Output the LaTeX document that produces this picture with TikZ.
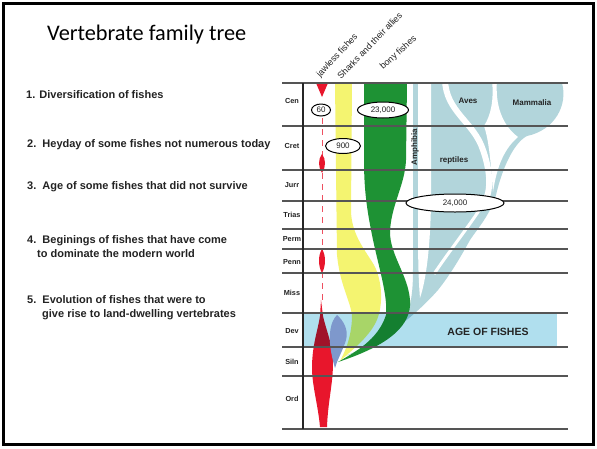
\documentclass[tikz,border=0pt]{standalone}
\usepackage{fontspec}
\setmainfont{Liberation Sans}
\newfontfamily\titlefont{Carlito}
\usetikzlibrary{shapes.geometric}
\definecolor{bluec}{RGB}{178,213,219}
\definecolor{bandc}{RGB}{176,223,238}
\definecolor{greenc}{RGB}{30,146,52}
\definecolor{yellowc}{RGB}{244,244,112}
\definecolor{redc}{RGB}{232,22,44}
\definecolor{bgc}{RGB}{126,152,204}
\definecolor{gridc}{RGB}{85,85,85}
\definecolor{txtc}{RGB}{35,35,35}
\tikzset{
  lst/.style={anchor=base west, inner sep=0, text=txtc, font=\bfseries\fontsize{11}{12}\selectfont},
  per/.style={inner sep=0, text=txtc, font=\bfseries\fontsize{7.3}{8}\selectfont},
  col/.style={anchor=base west, inner sep=0, text=txtc, font=\fontsize{9}{10}\selectfont},
  cnt/.style={ellipse, draw=black, line width=1pt, fill=white, inner sep=0, text=txtc, font=\fontsize{8}{9}\selectfont},
  lbl/.style={inner sep=0, text=txtc, font=\bfseries\fontsize{8}{9}\selectfont},
  gridline/.style={draw=gridc, line width=1.3pt},
}
\begin{document}
\begin{tikzpicture}[x=1pt,y=-1pt]
\useasboundingbox (0,0) rectangle (597,448);
\fill[white] (0,0) rectangle (597,448);
% frame
\draw[line width=2.5pt] (3.5,3.5) rectangle (593.5,444.5);
% title
\node[anchor=base west, inner sep=0, font=\titlefont\fontsize{22.3}{25}\selectfont] (title) at (47,40) {Vertebrate family tree};
% list
\node[lst] (l1) at (26,98) {1. Diversification of fishes};
\node[lst] (l2) at (27,147) {2.\ \ Heyday of some fishes not numerous today};
\node[lst] (l3) at (27,189) {3.\ \ Age of some fishes that did not survive};
\node[lst] (l4a) at (27,243) {4.\ \ Beginings of fishes that have come};
\node[lst] (l4b) at (37,257) {to dominate the modern world};
\node[lst] (l5a) at (27,303) {5.\ \ Evolution of fishes that were to};
\node[lst] (l5b) at (42,317) {give rise to land-dwelling vertebrates};

% tetrapod lineage (light blue)
\fill[bluec] (342,357) .. controls (380,345) and (405,330) .. (410,305)
  .. controls (413,290) and (413,280) .. (413,265) -- (413,83) -- (562,83)
  .. controls (568,105) and (555,130) .. (527,136)
  .. controls (515,142) and (503,165) .. (496,195)
  .. controls (490,215) and (478,228) .. (470,240)
  .. controls (460,258) and (450,275) .. (438,290)
  .. controls (425,305) and (390,340) .. (342,357) -- cycle;
% gap amphibia / reptiles
\fill[white] (418,83) -- (431,83) -- (431,205) .. controls (430,250) and (426,280) .. (420,298)
  .. controls (418,275) and (418,250) .. (418,205) -- cycle;
% gap reptiles / birds
\draw[white, line width=6pt] (445,80) .. controls (446,112) and (474,122) .. (483,150)
  .. controls (490,170) and (492,190) .. (484,203);
\draw[white, line width=3pt] (484,203) .. controls (470,225) and (450,250) .. (434,274);
% gap birds / mammals
\fill[white] (492,80) -- (497,80) .. controls (495,105) and (502,125) .. (518,137)
  .. controls (505,148) and (497,165) .. (493,192)
  .. controls (491,165) and (489,140) .. (484,126)
  .. controls (491,115) and (494,100) .. (492,80) -- cycle;

% sharks (yellow)
\fill[yellowc] (335,83) -- (352,83) -- (351,212) .. controls (352,235) and (365,250) .. (374,265)
  .. controls (382,280) and (384,305) .. (376,322) .. controls (368,338) and (352,350) .. (340,361)
  .. controls (346,350) and (352,335) .. (352,315) .. controls (350,300) and (340,285) .. (337,255) -- cycle;
% bony fishes (green)
\fill[greenc] (364,83) -- (407,83) -- (406,160) .. controls (405,185) and (391,205) .. (390,232)
  .. controls (390,255) and (408,275) .. (410,300) .. controls (412,325) and (390,345) .. (338,362)
  .. controls (355,352) and (378,340) .. (386,315) .. controls (388,295) and (378,265) .. (372,235)
  .. controls (367,210) and (364,190) .. (364,160) -- cycle;
% jawless fishes (red)
\fill[redc] (316,83) -- (328,83) -- (322,97) -- cycle;
\draw[redc!75, line width=1pt, dash pattern=on 6pt off 5pt] (322,118) -- (322,305);
\fill[redc] (322,154) .. controls (326,159) and (326,167) .. (322,173) .. controls (318,167) and (318,159) .. (322,154) -- cycle;
\fill[redc] (322,249) .. controls (326,255) and (326,266) .. (322,273) .. controls (318,266) and (318,255) .. (322,249) -- cycle;
\fill[redc] (321,300) -- (323,316) .. controls (326,330) and (333,345) .. (333,362)
  .. controls (333,385) and (328,400) .. (327,427) -- (320,427)
  .. controls (318,405) and (312,385) .. (312,368) .. controls (312,345) and (318,330) .. (320,316) -- cycle;

% age of fishes band
\fill[bandc, blend mode=multiply] (303,313) rectangle (557,347);
% placoderms (blue-gray)
\fill[bgc] (337,315) .. controls (343,320) and (349,330) .. (346,340) .. controls (343,350) and (338,358) .. (335,368)
  .. controls (332,358) and (329,345) .. (330,333) .. controls (331,323) and (334,318) .. (337,315) -- cycle;

% grid
\foreach \yy in {83,126,170,201,229,249,273,313,347,376,429}
  \draw[gridline] (282,\yy) -- (568,\yy);
\draw[draw=black!85, line width=1.2pt] (303,83) -- (303,429);

% period labels
\node[per] (cen) at (292,101) {Cen};
\node[per] (cret) at (292,146) {Cret};
\node[per] (jurr) at (292,185) {Jurr};
\node[per] (trias) at (292,215) {Trias};
\node[per] (perm) at (292,239) {Perm};
\node[per] (penn) at (292,262) {Penn};
\node[per] (miss) at (292,293) {Miss};
\node[per] (dev) at (292,331) {Dev};
\node[per] (siln) at (292,362) {Siln};
\node[per] (ord) at (292,399) {Ord};

% counts
\node[cnt, minimum width=19pt, minimum height=12pt] (n60) at (321,110) {60};
\node[cnt, minimum width=35pt, minimum height=15pt] (n900) at (343,146) {900};
\node[cnt, minimum width=51pt, minimum height=16pt] (n23k) at (383,110) {23,000};
\node[cnt, minimum width=98pt, minimum height=18pt] (n24k) at (455,203) {24,000};

% group labels
\node[lbl] (aves) at (468,101) {Aves};
\node[lbl] (mamm) at (532,103) {Mammalia};
\node[lbl] (rept) at (454,160) {reptiles};
\node[lbl, rotate=90] (amph) at (415,147) {Amphibia};
\node[inner sep=0, text=txtc, font=\bfseries\fontsize{10.5}{12}\selectfont] (age) at (488,332) {AGE OF FISHES};

% column labels
\node[col, rotate=47] (jaw) at (320,78) {jawless fishes};
\node[col, rotate=46] (shk) at (341,80) {Sharks and their allies};
\node[col, rotate=42] (bony) at (383,70) {bony fishes};
\end{tikzpicture}
\end{document}
